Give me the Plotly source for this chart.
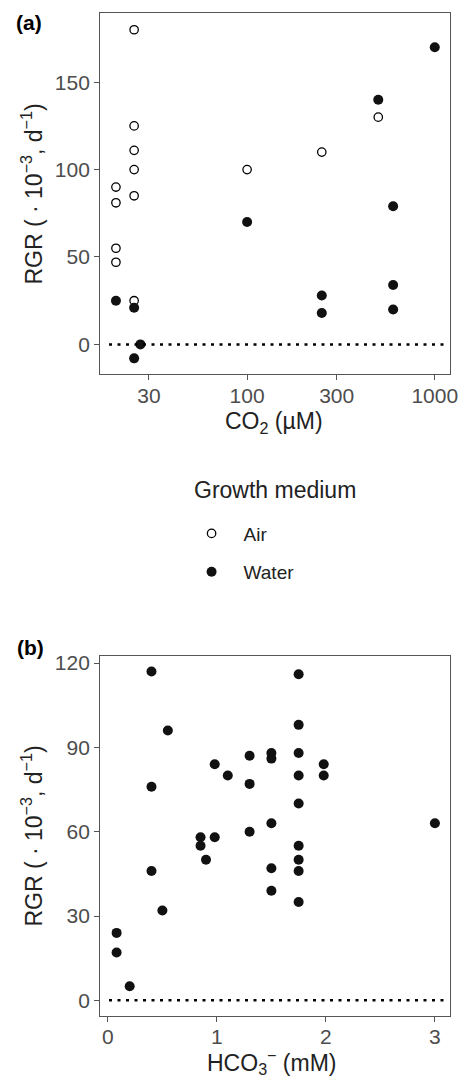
import math
import plotly.graph_objects as go

# ---------------- data ----------------
# Panel (a): CO2 (µM) vs RGR
air_co2 = [20, 20, 20, 20, 25, 25, 25, 25, 25, 25, 100, 250, 500]
air_rgr = [90, 81, 55, 47, 180, 125, 111, 100, 85, 25, 100, 110, 130]
water_co2 = [20, 25, 25, 27, 100, 250, 250, 500, 600, 600, 600, 1000]
water_rgr = [25, 21, -8, 0, 70, 28, 18, 140, 79, 34, 20, 170]

# Panel (b): HCO3- (mM) vs RGR
hco3 = [0.4, 0.55, 0.4, 0.4, 0.5, 0.08, 0.08, 0.2, 0.85, 0.85, 0.9, 0.98, 0.98,
        1.1, 1.3, 1.3, 1.3, 1.5, 1.5, 1.5, 1.5, 1.5, 1.75, 1.75, 1.75, 1.75,
        1.75, 1.75, 1.75, 1.75, 1.75, 1.98, 1.98, 3.0]
hco3_rgr = [117, 96, 76, 46, 32, 24, 17, 5, 58, 55, 50, 84, 58,
            80, 87, 77, 60, 88, 86, 63, 47, 39, 116, 98, 88, 80,
            70, 55, 50, 46, 35, 84, 80, 63]

a_xticks = [30, 100, 300, 1000]
a_yticks = [0, 50, 100, 150]
b_xticks = [0, 1, 2, 3]
b_yticks = [0, 30, 60, 90, 120]

# ---------------- layout geometry ----------------
W, H = 468, 1080
FONT = "Liberation Sans, Arial, Helvetica, sans-serif"
FRAME = "#555555"
TICKC = "#4d4d4d"
TXT = "#222222"


def px_x(p):
    return p / W


def px_y(p):
    return 1 - p / H


fig = go.Figure()

# Panel (a)
fig.add_trace(go.Scatter(
    x=air_co2, y=air_rgr, mode="markers", name="Air",
    marker=dict(symbol="circle-open", size=8.4, color="black", line=dict(width=1.3)),
    xaxis="x", yaxis="y", legend="legend"))
fig.add_trace(go.Scatter(
    x=water_co2, y=water_rgr, mode="markers", name="Water",
    marker=dict(symbol="circle", size=10, color="#111111"),
    xaxis="x", yaxis="y", legend="legend2"))

# Panel (b)
fig.add_trace(go.Scatter(
    x=hco3, y=hco3_rgr, mode="markers", name="Water", showlegend=False,
    marker=dict(symbol="circle", size=10, color="#111111"),
    xaxis="x2", yaxis="y2"))

axis_common = dict(
    showline=True, linecolor=FRAME, linewidth=1.3, mirror=True,
    showgrid=False, zeroline=False,
    ticks="outside", ticklen=5, tickwidth=1.2, tickcolor=FRAME,
    tickfont=dict(family=FONT, size=21, color=TICKC),
)

xdom = [px_x(102), px_x(458)]
fig.update_layout(
    width=W, height=H,
    margin=dict(l=0, r=0, t=0, b=0),
    paper_bgcolor="white", plot_bgcolor="white",
    font=dict(family=FONT, color=TXT),
    xaxis=dict(axis_common, type="log", domain=xdom,
               range=[math.log10(16.5), math.log10(1208)],
               tickvals=a_xticks, ticktext=[str(v) for v in a_xticks],
               ticklabelstandoff=-3, anchor="y"),
    yaxis=dict(axis_common, domain=[px_y(371), px_y(8)],
               range=[-17.1, 189.6], tickvals=a_yticks, anchor="x"),
    xaxis2=dict(axis_common, domain=xdom, range=[-0.07, 3.14],
                tickvals=b_xticks, ticklabelstandoff=-3, anchor="y2"),
    yaxis2=dict(axis_common, domain=[px_y(1015.7), px_y(654.3)],
                range=[-5.56, 122.4], tickvals=b_yticks, anchor="x2"),
    legend=dict(x=px_x(182.7), y=px_y(531), xanchor="left", yanchor="middle",
                font=dict(family=FONT, size=19, color=TXT), itemwidth=54,
                bgcolor="rgba(0,0,0,0)", itemclick=False),
    legend2=dict(x=px_x(182.7), y=px_y(569.5), xanchor="left", yanchor="middle",
                 font=dict(family=FONT, size=19, color=TXT), itemwidth=54,
                 bgcolor="rgba(0,0,0,0)", itemclick=False),
    showlegend=True,
)

# dotted zero lines
for xr, yr in (("x domain", "y"), ("x2 domain", "y2")):
    fig.add_shape(type="line", xref=xr, yref=yr, x0=0.025, x1=0.985, y0=0, y1=0,
                  line=dict(color="black", width=2.5, dash="3px,5.5px"))


def note(text, x, y, size, angle=0, color=TXT):
    return dict(text=text, x=px_x(x), y=px_y(y), xref="paper", yref="paper",
                xanchor="center", yanchor="middle", textangle=angle,
                showarrow=False, font=dict(family=FONT, size=size, color=color))


ytitle = "RGR ( · 10<sup>−3</sup>, d<sup>−1</sup>)"
ann = [
    note("<b>(a)</b>", 30, 18, 21, color="black"),
    note("<b>(b)</b>", 31, 645, 21, color="black"),
    note(ytitle, 33, 190, 23, angle=-90),
    note(ytitle, 33, 835, 23, angle=-90),
    note("CO<sub>2</sub> (µM)", 279, 419, 23),
    note("HCO<sub>3</sub><sup>−</sup> (mM)", 277, 1062, 23),
    note("Growth medium", 280, 487, 23),
]
fig.update_layout(annotations=ann)

fig.write_html(
    "out.html",
    config={"displayModeBar": False},
    post_script="document.body.style.margin='0';document.body.style.overflow='hidden';",
)
